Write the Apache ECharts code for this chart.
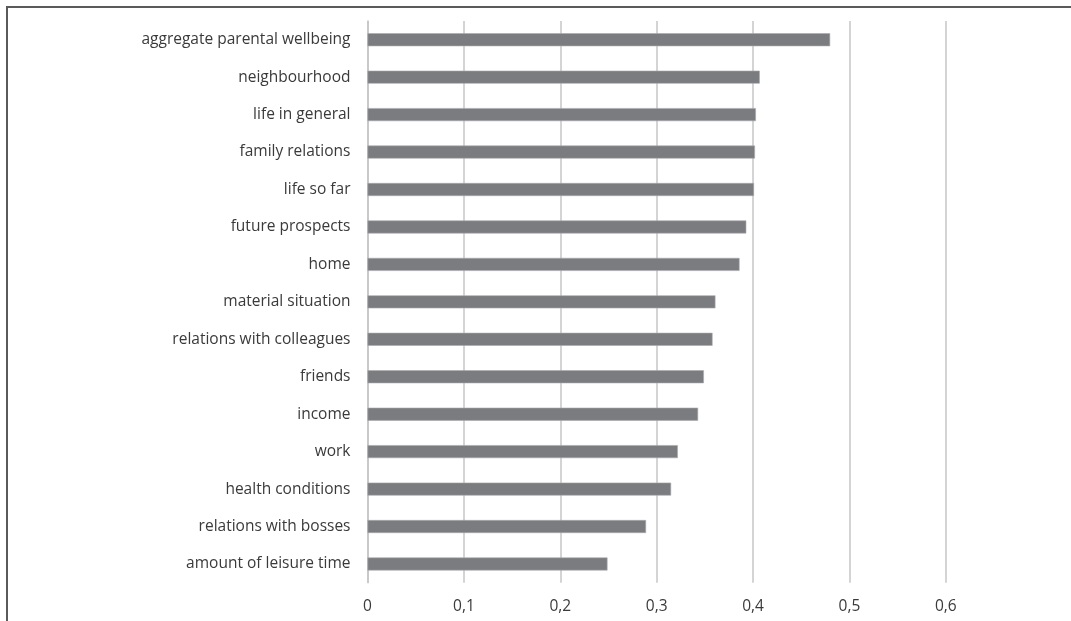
<!DOCTYPE html>
<html>
<head>
<meta charset="utf-8">
<script src="https://cdn.jsdelivr.net/npm/echarts@6/dist/echarts.min.js"></script>
<style>
  html, body { margin: 0; padding: 0; background: #ffffff; }
  #chart { width: 1071px; height: 621px; }
</style>
</head>
<body>
<div id="chart"></div>
<script>
const categories = [
  "aggregate parental wellbeing",
  "neighbourhood",
  "life in general",
  "family relations",
  "life so far",
  "future prospects",
  "home",
  "material situation",
  "relations with colleagues",
  "friends",
  "income",
  "work",
  "health conditions",
  "relations with bosses",
  "amount of leisure time"
];
const values = [0.480, 0.407, 0.403, 0.402, 0.401, 0.393, 0.386, 0.361, 0.358, 0.349, 0.343, 0.322, 0.315, 0.289, 0.249];
const xTicks = [0, 0.1, 0.2, 0.3, 0.4, 0.5, 0.6];

const chart = echarts.init(document.getElementById('chart'), null, { renderer: 'canvas' });
const fontFamily = '"Open Sans", Lato, sans-serif';
chart.setOption({
  animation: false,
  backgroundColor: '#ffffff',
  graphic: [{
    type: 'rect',
    shape: { x: 7, y: 7, width: 1200, height: 800 },
    style: { fill: 'none', stroke: '#5a5a5a', lineWidth: 2 },
    silent: true
  }],
  grid: { left: 367.5, top: 21, right: 1071 - 945.8, bottom: 38.3, containLabel: false },
  xAxis: {
    type: 'value',
    min: xTicks[0],
    max: xTicks[xTicks.length - 1],
    interval: 0.1,
    axisLine: { show: false },
    axisTick: { show: false },
    axisLabel: {
      margin: 16,
      color: '#3a3a3a',
      fontFamily: fontFamily,
      fontSize: 15.5,
      formatter: v => String(Math.round(v * 10) / 10).replace('.', ',')
    },
    splitLine: { show: true, lineStyle: { color: '#c6c6c6', width: 1.5 } }
  },
  yAxis: {
    type: 'category',
    data: categories,
    inverse: true,
    axisLine: { show: true, lineStyle: { color: '#c6c6c6', width: 1.5 } },
    axisTick: { show: false },
    axisLabel: {
      margin: 17,
      color: '#3a3a3a',
      fontFamily: fontFamily,
      fontSize: 15.5
    }
  },
  series: [{
    type: 'bar',
    data: values,
    barWidth: 13,
    itemStyle: { color: '#7b7c80', borderColor: '#a9aaad', borderWidth: 0.6 }
  }]
});
</script>
</body>
</html>
